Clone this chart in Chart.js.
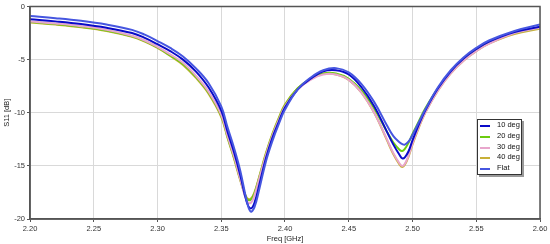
<!DOCTYPE html>
<html>
<head>
<meta charset="utf-8">
<script src="https://cdn.jsdelivr.net/npm/chart.js@4.4.1/dist/chart.umd.min.js"></script>
<style>
  html, body { margin: 0; padding: 0; background: #fff; }
  #wrap { position: relative; width: 550px; height: 244px; }
  #legend {
    position: absolute; left: 477px; top: 119px; width: 43px; height: 54px;
    border: 1px solid #333; background: #fff; box-shadow: 2px 2px 0 #999;
    font: 7.5px "Liberation Sans", Arial, sans-serif; color: #111;
    white-space: nowrap;
  }
  #legend .row { height: 10.8px; line-height: 10.8px; position: relative; }
  #legend .sw { position: absolute; left: 2px; top: 5px; width: 10px; height: 2px; }
  #legend .tx { position: absolute; left: 19px; top: 0; }
</style>
</head>
<body>
<div id="wrap">
  <canvas id="myChart" width="550" height="244"></canvas>
  <div id="legend"></div>
</div>
<script>
const freq = [2.20, 2.22, 2.24, 2.26, 2.28, 2.29, 2.30, 2.31, 2.32, 2.33, 2.34, 2.35, 2.355, 2.36, 2.365, 2.37, 2.373, 2.376, 2.38, 2.385, 2.39, 2.395, 2.40, 2.41, 2.42, 2.43, 2.44, 2.45, 2.46, 2.47, 2.48, 2.485, 2.49, 2.492, 2.494, 2.497, 2.50, 2.505, 2.51, 2.52, 2.53, 2.54, 2.55, 2.56, 2.58, 2.60];

const s10deg = [-1.2, -1.4, -1.65, -2.0, -2.5, -2.95, -3.55, -4.2, -5.0, -6.1, -7.6, -9.8, -11.8, -13.7, -15.9, -18.4, -19.0, -18.5, -16.7, -14.3, -12.4, -10.9, -9.5, -7.8, -6.8, -6.1, -6.0, -6.4, -7.6, -9.4, -11.8, -13.0, -14.0, -14.3, -14.2, -13.6, -12.6, -11.1, -9.8, -7.7, -6.1, -4.9, -4.0, -3.3, -2.4, -1.9];
const s20deg = [-1.45, -1.65, -1.9, -2.25, -2.8, -3.25, -3.85, -4.6, -5.4, -6.6, -8.1, -10.3, -12.3, -14.2, -16.3, -18.1, -18.2, -17.6, -16.0, -13.9, -12.1, -10.6, -9.3, -7.7, -6.8, -6.3, -6.3, -6.8, -7.9, -9.6, -11.8, -12.8, -13.5, -13.6, -13.4, -12.8, -12.0, -10.8, -9.6, -7.7, -6.2, -5.0, -4.1, -3.4, -2.5, -2.0];
const s30deg = [-1.4, -1.6, -1.85, -2.2, -2.75, -3.2, -3.8, -4.5, -5.3, -6.5, -8.0, -10.2, -12.2, -14.1, -16.3, -18.3, -18.5, -17.8, -16.1, -14.0, -12.2, -10.7, -9.4, -7.8, -6.9, -6.4, -6.4, -6.9, -8.1, -10.0, -12.5, -13.8, -14.8, -15.0, -14.8, -14.0, -12.9, -11.3, -10.0, -7.9, -6.3, -5.1, -4.2, -3.5, -2.5, -2.0];
const s40deg = [-1.5, -1.7, -1.95, -2.3, -2.85, -3.3, -3.9, -4.65, -5.5, -6.7, -8.2, -10.4, -12.4, -14.3, -16.4, -18.0, -18.1, -17.5, -15.9, -13.8, -12.0, -10.5, -9.2, -7.7, -6.8, -6.3, -6.4, -6.9, -8.1, -10.0, -12.6, -13.9, -14.9, -15.1, -14.9, -14.1, -13.0, -11.4, -10.0, -7.9, -6.3, -5.1, -4.2, -3.5, -2.6, -2.1];
const sFlat = [-0.9, -1.1, -1.35, -1.7, -2.2, -2.65, -3.25, -3.9, -4.7, -5.8, -7.2, -9.4, -11.4, -13.3, -15.5, -18.3, -19.3, -18.9, -17.1, -14.6, -12.7, -11.1, -9.7, -7.8, -6.7, -6.0, -5.8, -6.2, -7.3, -9.0, -11.2, -12.2, -12.8, -12.95, -13.0, -12.7, -12.1, -10.9, -9.7, -7.6, -6.0, -4.8, -3.9, -3.2, -2.3, -1.7];

const seriesNames = ['10 deg', '20 deg', '30 deg', '40 deg', 'Flat'];
const seriesValues = [s10deg, s20deg, s30deg, s40deg, sFlat];
const seriesColors = ['#0a0ac8', '#6ccc10', '#e8a6cc', '#c8b038', '#4656e0'];

const xTickValues = [2.20, 2.25, 2.30, 2.35, 2.40, 2.45, 2.50, 2.55, 2.60];
const yTickValues = [-20, -15, -10, -5, 0];

const datasets = seriesNames.map((name, i) => ({
  label: name,
  data: freq.map((f, j) => ({ x: f, y: seriesValues[i][j] })),
  borderColor: seriesColors[i],
  backgroundColor: seriesColors[i],
  borderWidth: 2,
  pointRadius: 0,
  tension: 0.4,
  order: [2, 4, 3, 5, 1][i],
}));

const framePlugin = {
  id: 'frame',
  afterDraw(chart) {
    const { ctx, chartArea: a } = chart;
    ctx.save();
    ctx.strokeStyle = '#555';
    ctx.lineWidth = 1.5;
    ctx.strokeRect(a.left, a.top, a.right - a.left, a.bottom - a.top);
    ctx.restore();
  },
};

const textFont = { family: 'Liberation Sans', size: 7.5 };

const myChart = new Chart(document.getElementById('myChart'), {
  type: 'line',
  data: { datasets },
  plugins: [framePlugin],
  options: {
    responsive: false,
    animation: false,
    layout: { padding: { top: 6, right: 10, left: 0, bottom: 0 } },
    plugins: { legend: { display: false }, tooltip: { enabled: false } },
    scales: {
      x: {
        type: 'linear',
        min: 2.2,
        max: 2.6,
        afterBuildTicks: (axis) => { axis.ticks = xTickValues.map((v) => ({ value: v })); },
        afterFit: (axis) => { axis.height = 25; },
        ticks: {
          font: textFont,
          color: '#333',
          padding: 2,
          maxRotation: 0,
          callback: (v) => v.toFixed(2),
        },
        grid: { color: '#d9d9d9', tickLength: 3, tickColor: '#555' },
        border: { color: '#555', width: 1.5 },
        title: {
          display: true,
          text: 'Freq [GHz]',
          font: textFont,
          color: '#222',
          padding: { top: 0, bottom: 1 },
        },
      },
      y: {
        min: -20,
        max: 0,
        afterBuildTicks: (axis) => { axis.ticks = yTickValues.map((v) => ({ value: v })); },
        afterFit: (axis) => { axis.width = 30; },
        ticks: { font: textFont, color: '#333', padding: 2 },
        grid: { color: '#d9d9d9', tickLength: 3, tickColor: '#555' },
        border: { color: '#555', width: 1.5 },
        title: {
          display: true,
          text: 'S11 [dB]',
          font: textFont,
          color: '#222',
          padding: { top: 2, bottom: 0 },
        },
      },
    },
  },
});

const legendBox = document.getElementById('legend');
seriesNames.forEach((name, i) => {
  const row = document.createElement('div');
  row.className = 'row';
  row.innerHTML = '<span class="sw" style="background:' + seriesColors[i] + '"></span><span class="tx">' + name + '</span>';
  legendBox.appendChild(row);
});
</script>
</body>
</html>
